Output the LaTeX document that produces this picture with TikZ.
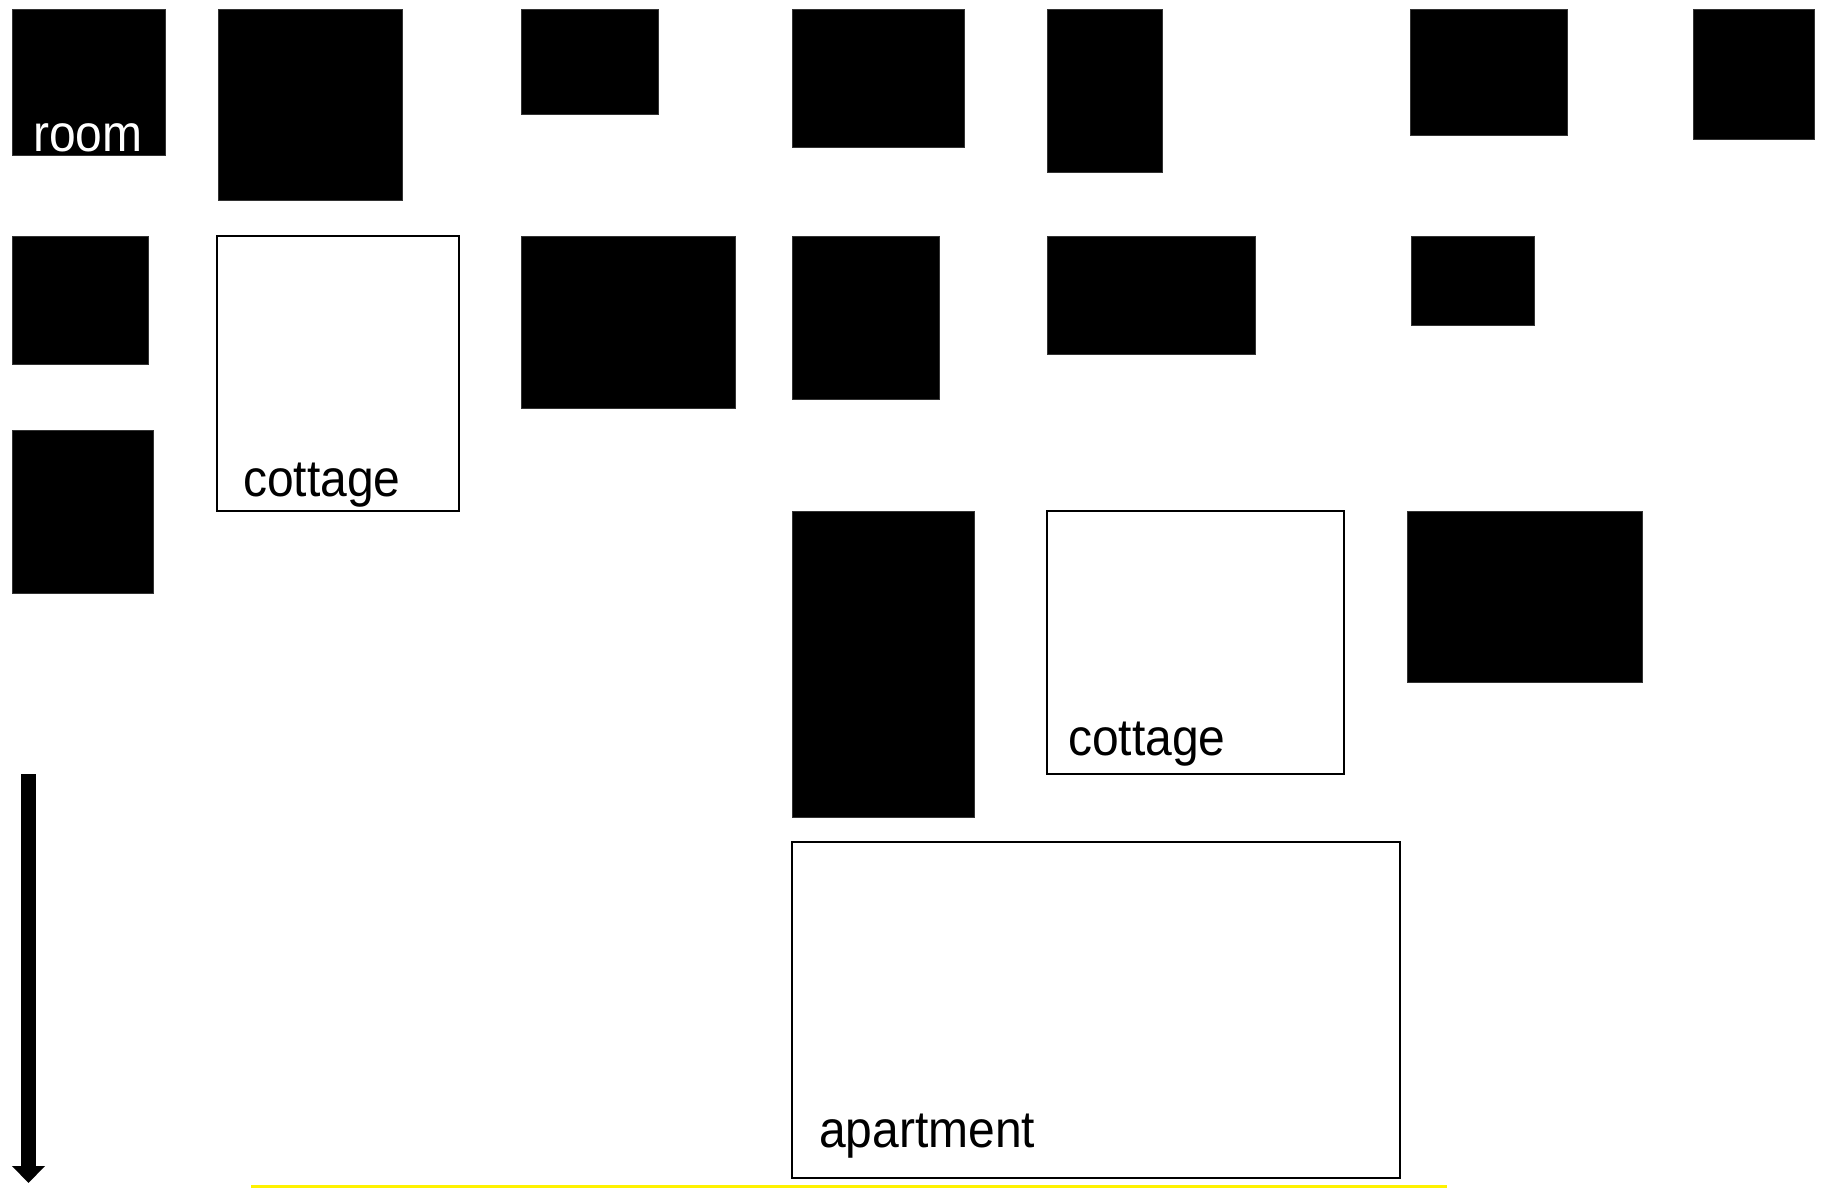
\documentclass[tikz,border=0pt]{standalone}
\usepackage{fontspec}
\setmainfont{Liberation Sans}
\usepackage{graphicx}
\usetikzlibrary{arrows.meta}
\tikzset{
  blk/.style={rectangle, fill=black, draw=black!80, line width=1pt, inner sep=0pt, outer sep=0pt, anchor=north west},
  wht/.style={rectangle, fill=white, draw=black, line width=2pt, inner sep=0pt, outer sep=0pt, anchor=north west},
  lbl/.style={inner sep=0pt, anchor=base west, font=\fontsize{48}{56}\selectfont},
}
\newcommand{\bx}[6]{\node[#6, minimum width=#4pt-#2pt, minimum height=#5pt-#3pt] (#1) at (#2,#3) {};}
\newcommand{\txt}[1]{\scalebox{1}[1.08]{#1}}
\begin{document}
\begin{tikzpicture}[x=1pt,y=-1pt]
\fill[white] (0,0) rectangle (1826,1188);
\useasboundingbox (0,0) rectangle (1826,1188);
% row 1
\bx{room}{12}{10}{165}{156}{blk}
\bx{ra2}{218}{10}{402}{200}{blk}
\bx{ra3}{521}{10}{658}{115}{blk}
\bx{ra4}{792}{10}{964}{148}{blk}
\bx{ra5}{1047}{10}{1162}{172}{blk}
\bx{ra6}{1410}{10}{1567}{136}{blk}
\bx{ra7}{1693}{10}{1814}{140}{blk}
% row 2
\bx{rb1}{12}{236}{148}{364}{blk}
\bx{cottageA}{217}{236}{459}{511}{wht}
\bx{rb3}{521}{236}{735}{408}{blk}
\bx{rb4}{792}{236}{939}{399}{blk}
\bx{rb5}{1047}{236}{1255}{354}{blk}
\bx{rb6}{1411}{236}{1534}{325}{blk}
% row 3
\bx{rc1}{12}{430}{153}{593}{blk}
\bx{rc2}{792}{511}{974}{817}{blk}
\bx{cottageB}{1047}{511}{1344}{774}{wht}
\bx{rc4}{1407}{511}{1642}{682}{blk}
% apartment
\bx{apartment}{792}{842}{1400}{1178}{wht}
% labels
\node[lbl, text=white] (roomlbl) at (33,152) {\txt{room}};
\node[lbl] (cottageAlbl) at (243,496) {\txt{cottage}};
\node[lbl] (cottageBlbl) at (1068,755) {\txt{cottage}};
\node[lbl] (apartmentlbl) at (819,1147) {\txt{apartment}};
% arrow
\coordinate (arrowtop) at (28.5,774);
\coordinate (arrowtip) at (28.5,1183);
\draw[line width=15pt, -{Triangle[width=32pt,length=17pt]}] (arrowtop) -- (arrowtip);
% yellow line
\coordinate (ylA) at (251,1186);
\coordinate (ylB) at (1447,1186);
\draw[yellow, line width=3pt] (ylA) -- (ylB);
\end{tikzpicture}
\end{document}
